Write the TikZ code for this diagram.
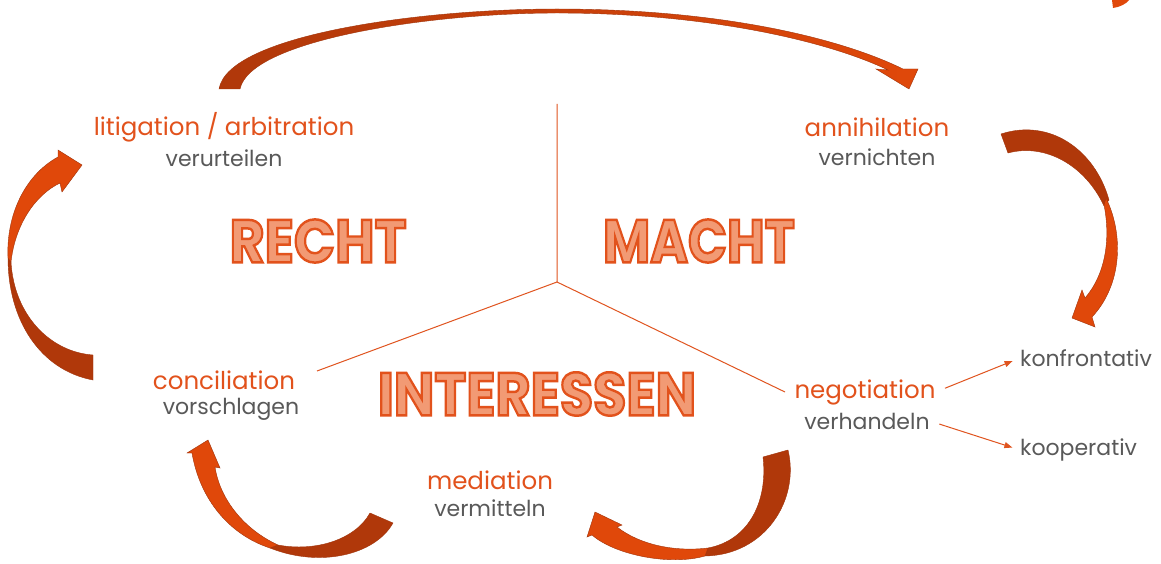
\documentclass[tikz,border=0pt]{standalone}
\usepackage{fontspec}
\usepackage{graphicx}
\setmainfont{Poppins}
\usetikzlibrary{arrows.meta}

\definecolor{labelorange}{HTML}{E2521C}
\definecolor{labelgray}{HTML}{595959}
\definecolor{linecol}{HTML}{E0541F}
\definecolor{arrdark}{HTML}{B0380A}
\definecolor{arrbright}{HTML}{E0480A}
\definecolor{arredge}{HTML}{A0330A}
\definecolor{wordfill}{HTML}{F29A74}

% heavy title word: light fill, glyph outlines stroked in the label orange
\newcommand\bigword[1]{{\color{wordfill}%
  \special{pdf:code 2 Tr 2.2 w 0.886 0.322 0.110 RG}#1\special{pdf:code 0 Tr}}}

\tikzset{
  orangelbl/.style={text=labelorange, inner sep=0pt, font=\fontsize{24.5}{28}\selectfont},
  graylbl/.style={text=labelgray, inner sep=0pt, font=\fontsize{22}{26}\selectfont},
  titleword/.style={inner sep=0pt, font=\fontsize{54}{60}\selectfont\bfseries},
  divider/.style={draw=linecol, line width=1pt},
  smallarrow/.style={draw=linecol, line width=1pt, -{Triangle[length=8pt,width=6pt]}},
  ribbondark/.style={fill=arrdark, draw=arredge, line width=0.4pt},
  ribbonbright/.style={fill=arrbright, draw=arredge, line width=0.4pt},
}

\begin{document}
\begin{tikzpicture}[x=1pt,y=-1pt]
\useasboundingbox[fill=white] (0,0) rectangle (1161,564);

% dividing lines between the three regions
\coordinate (hub) at (557,282);
\coordinate (topend) at (557,104);
\coordinate (leftend) at (317,371);
\coordinate (rightend) at (785,392);
\draw[divider] (topend) -- (hub) -- (leftend);
\draw[divider] (hub) -- (rightend);

% region titles
\node[titleword] (recht) at (318,241) {\scalebox{1.0}[1.12]{\bigword{RECHT}}};
\node[titleword] (macht) at (699,241) {\scalebox{0.95}[1.12]{\bigword{MACHT}}};
\node[titleword] (interessen) at (537,394) {\scalebox{1.0}[1.12]{\bigword{INTERESSEN}}};

% procedure labels
\node[orangelbl] (litig) at (224,127) {litigation / arbitration};
\node[graylbl] (verurt) at (224,158) {verurteilen};
\node[orangelbl] (annih) at (877,127) {annihilation};
\node[graylbl] (vernicht) at (877,157) {vernichten};
\node[orangelbl] (concil) at (224,380) {conciliation};
\node[graylbl] (vorschl) at (231,409) {vorschlagen};
\node[orangelbl] (medi) at (490,480) {mediation};
\node[graylbl] (vermitt) at (490,508) {vermitteln};
\node[orangelbl] (negot) at (865,392) {negotiation};
\node[graylbl] (verhand) at (867,421) {verhandeln};
\node[graylbl, anchor=west] (konf) at (1020,358) {konfrontativ};
\node[graylbl, anchor=west] (koop) at (1020,450) {kooperativ};

\draw[smallarrow, shorten <=10pt, shorten >=8pt] (negot.east) -- (konf.west);
\draw[smallarrow, shorten <=10pt, shorten >=8pt] (verhand.east) -- (koop.west);

% top ribbon arrow: litigation -> annihilation
\shade[left color=arrdark, right color=arrbright, draw=arredge, line width=0.4pt]
  (219,89) .. controls (228,35) and (420,9) .. (557,9)
  .. controls (720,9) and (840,38) .. (903,69)
  -- (918,69) -- (909,89) -- (876,69) -- (888,70)
  .. controls (830,42) and (710,13) .. (557,13)
  .. controls (430,13) and (250,40) .. (240,89) -- cycle;

% right ribbon arrow: annihilation -> negotiation
\path[ribbondark] (1001,134) .. controls (1050,118) and (1095,150) .. (1109,200)
  -- (1104,206) .. controls (1085,165) and (1045,143) .. (1008,153) -- cycle;
\path[ribbonbright] (1106,198) .. controls (1124,235) and (1122,285) .. (1092,317)
  -- (1095,327) -- (1072,318) -- (1082,290) -- (1085,298)
  .. controls (1105,275) and (1111,240) .. (1104,205) -- cycle;

% bottom-right ribbon arrow: negotiation -> mediation
\path[ribbondark] (788,450) .. controls (800,500) and (765,555) .. (705,556)
  -- (708,548) .. controls (750,540) and (768,500) .. (763,457) -- cycle;
\path[ribbonbright] (705,556) .. controls (670,566) and (615,555) .. (592,535)
  -- (587,537) -- (595,512) -- (622,525) -- (617,527)
  .. controls (640,545) and (675,552) .. (708,548) -- cycle;

% bottom-left ribbon arrow: mediation -> conciliation
\path[ribbondark] (393,523) .. controls (375,555) and (320,568) .. (270,548)
  -- (278,545) .. controls (315,552) and (355,540) .. (370,513) -- cycle;
\path[ribbonbright] (270,548) .. controls (230,535) and (200,500) .. (192,453)
  -- (187,453) -- (208,440) -- (220,468) -- (215,467)
  .. controls (220,500) and (245,530) .. (278,545) -- cycle;

% left ribbon arrow: conciliation -> litigation
\path[ribbondark] (93,380) .. controls (40,370) and (8,320) .. (8,258)
  -- (11,262) .. controls (14,315) and (50,352) .. (93,355) -- cycle;
\path[ribbonbright] (8,258) .. controls (6,215) and (25,175) .. (58,157)
  -- (58,150) -- (82,165) -- (62,192) -- (60,183)
  .. controls (35,195) and (15,225) .. (11,262) -- cycle;

% corner fragment at the top edge
\path[fill=arrbright] (1112,0) -- (1129,0) .. controls (1126,4) and (1120,7) .. (1113,8) -- cycle;
\end{tikzpicture}
\end{document}
